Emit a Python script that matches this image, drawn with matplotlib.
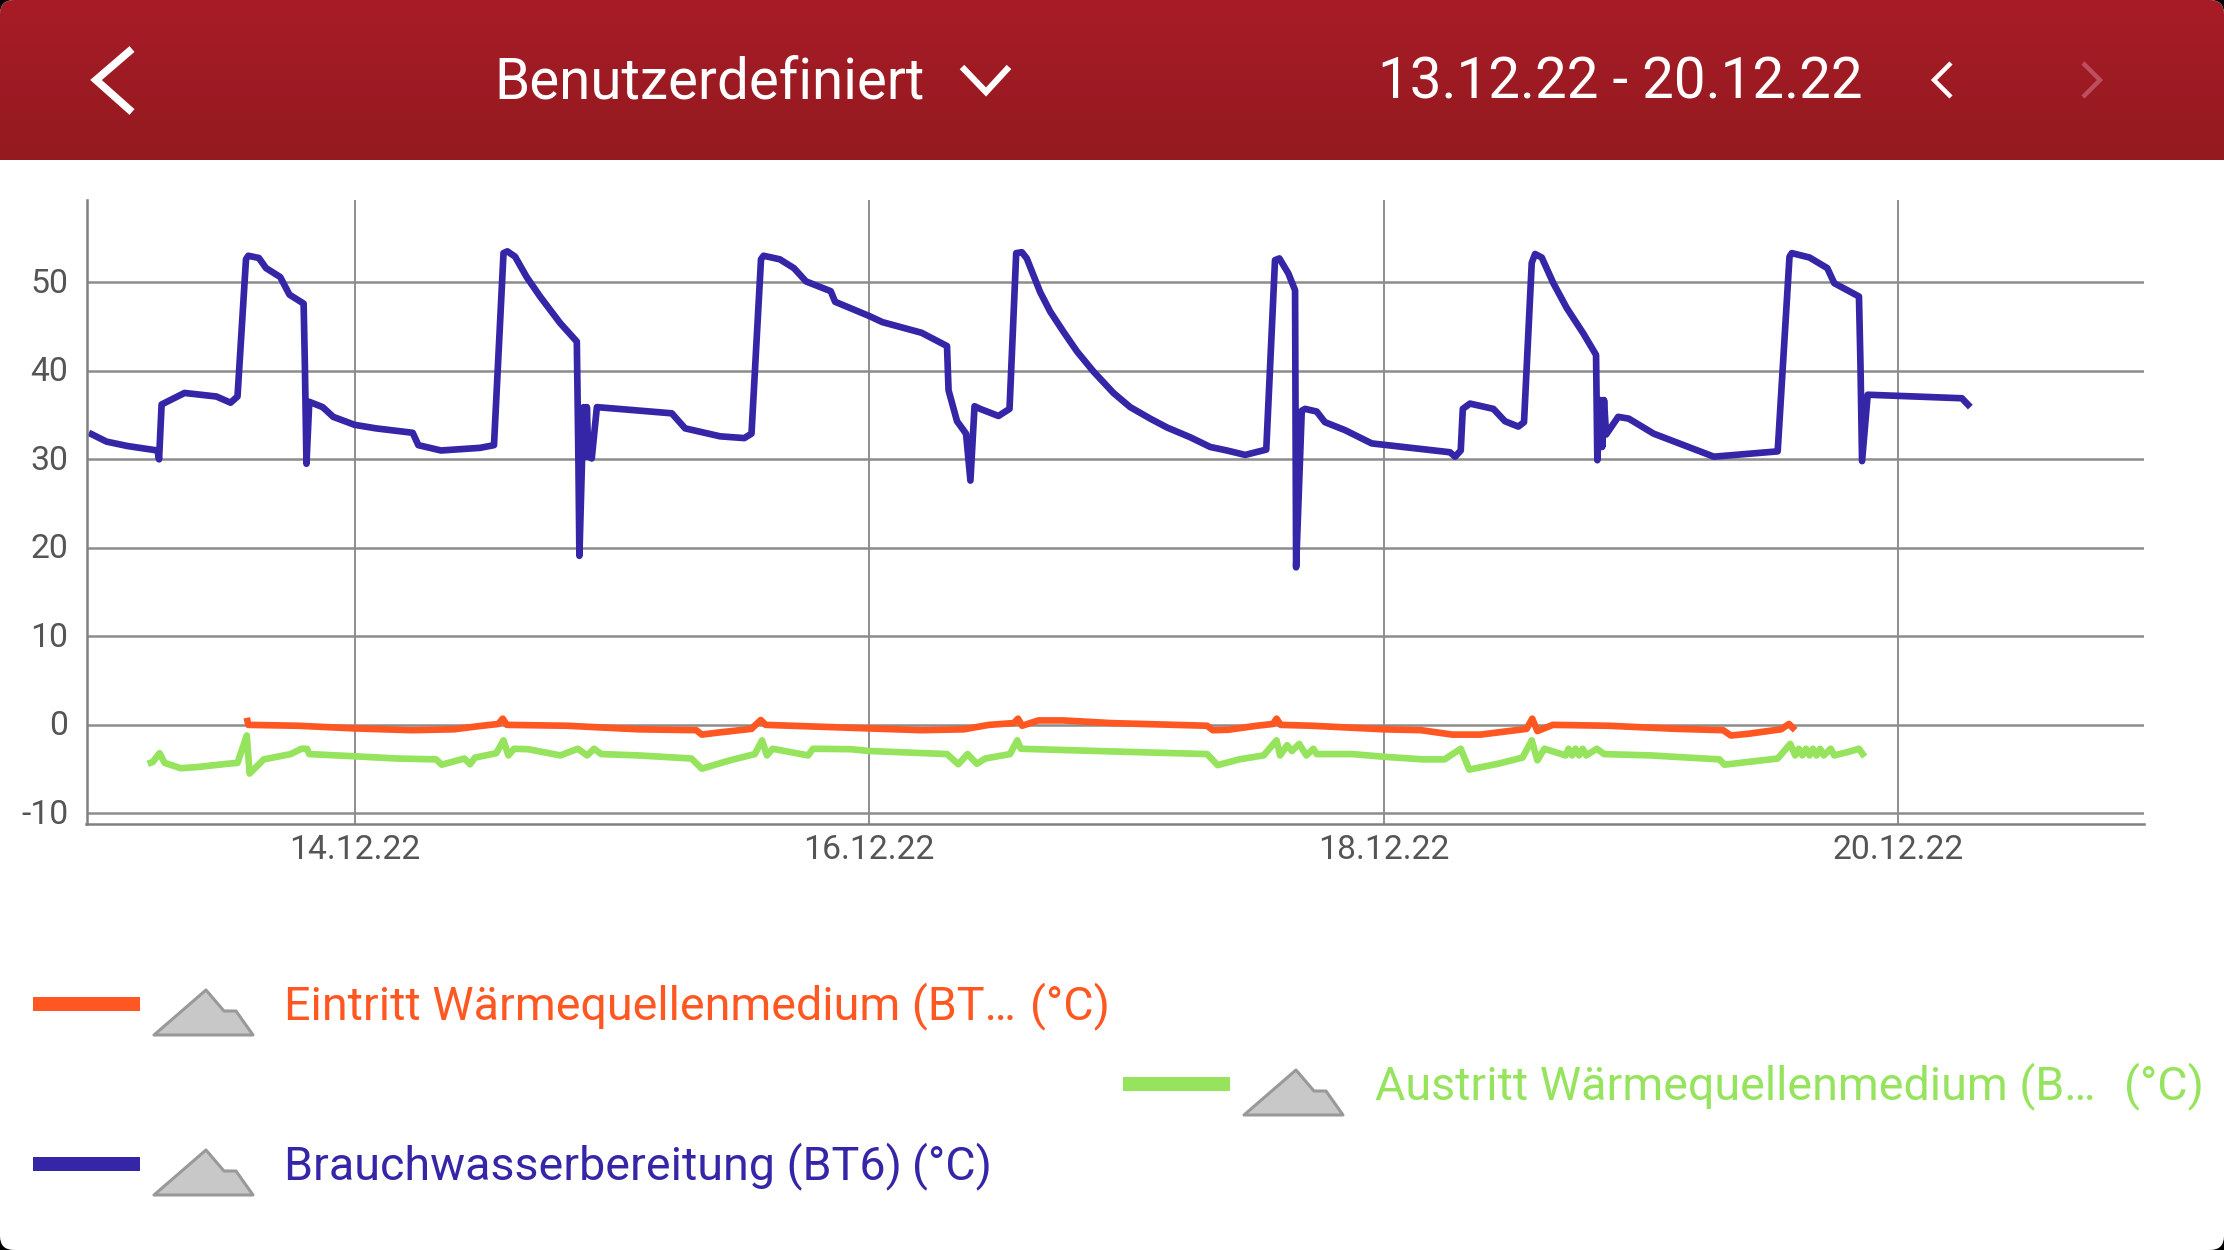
import numpy as np
import matplotlib
matplotlib.use("Agg")
import matplotlib.pyplot as plt
from matplotlib.patches import Polygon, Rectangle, FancyBboxPatch
from matplotlib.transforms import ScaledTranslation

W, H = 2224, 1250
plt.rcParams['font.family'] = ['Roboto', 'DejaVu Sans']

# ---- data (x = day of December 2022, y = degrees C) ----
blue_day = [12.967,13.036,13.118,13.234,13.24,13.25,13.284,13.339,13.463,13.518,13.545,13.578,13.587,13.628,13.656,13.711,13.747,13.802,13.807,13.813,13.824,13.876,13.917,14.0,14.083,14.226,14.248,14.336,14.488,14.542,14.579,14.594,14.624,14.669,14.721,14.799,14.864,14.870,14.874,14.89,14.9,14.903,14.909,14.922,14.942,15.233,15.285,15.421,15.515,15.543,15.580,15.590,15.653,15.708,15.755,15.851,15.868,16.0,16.052,16.204,16.303,16.309,16.342,16.377,16.394,16.410,16.432,16.503,16.546,16.572,16.594,16.613,16.665,16.704,16.756,16.808,16.873,16.95,17.015,17.093,17.158,17.248,17.326,17.391,17.462,17.544,17.578,17.595,17.63,17.656,17.658,17.66,17.669,17.682,17.695,17.74,17.772,17.85,17.954,18.258,18.278,18.3,18.308,18.336,18.427,18.472,18.524,18.546,18.576,18.589,18.615,18.66,18.712,18.777,18.826,18.831,18.843,18.850,18.857,18.865,18.912,18.953,19.05,19.284,19.532,19.578,19.587,19.656,19.725,19.752,19.848,19.854,19.860,19.882,20.248,20.281]
blue_val = [33.0,32.0,31.5,31.0,30.0,36.2,36.7,37.5,37.1,36.4,37.1,52.6,53.0,52.75,51.6,50.6,48.6,47.6,40.5,29.5,36.5,35.9,34.8,33.9,33.5,33.0,31.6,31.0,31.3,31.6,53.3,53.5,52.9,50.6,48.4,45.4,43.3,30.3,19.1,35.9,30.3,35.9,30.3,30.1,35.9,35.2,33.5,32.6,32.4,32.9,52.6,53.0,52.6,51.6,50.1,49.0,47.8,46.2,45.5,44.3,42.8,37.8,34.3,32.9,27.6,36.0,35.7,34.9,35.7,53.3,53.4,52.7,48.9,46.7,44.4,42.2,39.9,37.5,35.9,34.6,33.6,32.5,31.4,31.0,30.5,31.1,52.5,52.7,51.0,49.1,33.3,17.8,25.0,35.5,35.7,35.4,34.2,33.3,31.8,30.8,30.3,31.0,35.7,36.3,35.7,34.3,33.7,34.2,52.2,53.2,52.8,49.9,47.1,44.2,41.8,29.9,36.7,31.4,36.7,32.8,34.8,34.6,32.9,30.3,30.9,52.9,53.3,52.8,51.6,49.9,48.4,40.5,29.8,37.3,36.9,35.9]

orange_day = [13.581,13.587,13.78,14.0,14.22,14.386,14.496,14.559,14.576,14.592,14.826,15.102,15.328,15.35,15.405,15.543,15.579,15.598,16.0,16.204,16.369,16.466,16.562,16.579,16.595,16.658,16.755,16.942,17.314,17.336,17.397,17.507,17.570,17.584,17.6,17.722,18.0,18.146,18.267,18.377,18.556,18.578,18.598,18.658,18.873,19.14,19.32,19.35,19.42,19.545,19.576,19.6]
orange_val = [0.8,0.0,-0.1,-0.4,-0.6,-0.5,-0.1,0.1,0.7,0.0,-0.1,-0.5,-0.6,-1.1,-0.9,-0.45,0.55,0.0,-0.4,-0.6,-0.5,0.0,0.2,0.7,-0.1,0.5,0.5,0.2,-0.1,-0.6,-0.55,-0.1,0.1,0.7,0.0,-0.1,-0.5,-0.6,-1.1,-1.1,-0.45,0.7,-0.7,0.0,-0.1,-0.45,-0.6,-1.2,-1.0,-0.5,0.1,-0.6]

green_day = [13.196,13.215,13.242,13.262,13.325,13.394,13.504,13.545,13.581,13.592,13.647,13.752,13.793,13.815,13.824,14.0,14.165,14.317,14.339,14.427,14.449,14.468,14.551,14.579,14.598,14.62,14.675,14.8,14.868,14.904,14.931,14.959,15.102,15.309,15.35,15.46,15.556,15.584,15.603,15.625,15.763,15.782,15.928,16.0,16.303,16.347,16.383,16.419,16.452,16.548,16.576,16.59,16.942,17.314,17.355,17.438,17.534,17.584,17.598,17.625,17.644,17.672,17.70,17.727,17.74,17.877,18.0,18.154,18.237,18.3,18.333,18.444,18.54,18.576,18.598,18.625,18.708,18.719,18.733,18.746,18.76,18.774,18.788,18.829,18.857,19.036,19.306,19.325,19.532,19.581,19.6,19.614,19.628,19.642,19.656,19.669,19.683,19.697,19.711,19.738,19.752,19.807,19.848,19.87]
green_val = [-4.4,-4.2,-3.2,-4.3,-4.9,-4.75,-4.4,-4.3,-1.2,-5.5,-3.9,-3.3,-2.7,-2.7,-3.3,-3.55,-3.8,-3.9,-4.5,-3.8,-4.45,-3.7,-3.2,-1.75,-3.45,-2.7,-2.75,-3.45,-2.7,-3.45,-2.7,-3.3,-3.45,-3.8,-4.95,-4.0,-3.3,-1.75,-3.45,-2.7,-3.45,-2.7,-2.75,-2.95,-3.3,-4.45,-3.3,-4.4,-3.8,-3.3,-1.75,-2.7,-3.0,-3.3,-4.55,-3.9,-3.45,-1.75,-3.45,-2.3,-2.95,-2.15,-3.45,-2.7,-3.3,-3.3,-3.6,-3.9,-3.9,-2.7,-5.05,-4.4,-3.7,-1.75,-4.0,-2.7,-3.45,-2.7,-3.45,-2.7,-3.45,-2.7,-3.45,-2.7,-3.3,-3.45,-3.9,-4.5,-3.8,-2.15,-3.45,-2.7,-3.45,-2.7,-3.45,-2.7,-3.45,-2.7,-3.45,-2.7,-3.45,-3.05,-2.7,-3.6]

x_ticks = [14, 16, 18, 20]
x_labels = ['14.12.22', '16.12.22', '18.12.22', '20.12.22']
y_ticks = [-10, 0, 10, 20, 30, 40, 50]

ORANGE, GREEN, BLUE = '#FF5722', '#96E35E', '#3526A8'

fig = plt.figure(figsize=(W / 100, H / 100), dpi=100, facecolor='black')

# screen overlay in pixel coordinates
ui = fig.add_axes([0, 0, 1, 1], zorder=0)
ui.set_xlim(0, W); ui.set_ylim(H, 0); ui.axis('off')
screen = FancyBboxPatch((0, 0), W, H, boxstyle='round,pad=0,rounding_size=14',
                        fc='white', ec='none')
ui.add_patch(screen)
grad = np.linspace(0, 1, 160)[:, None, None] * (np.array([0x94, 0x1A, 0x20]) - np.array([0xA8, 0x1C, 0x27])) + np.array([0xA8, 0x1C, 0x27])
im = ui.imshow(grad.astype(np.uint8), extent=(0, W, 160, 0), aspect='auto', zorder=1)
im.set_clip_path(screen)
ui.set_xlim(0, W); ui.set_ylim(H, 0)

def chevron(pts, color='white', lw=5):
    xs, ys = zip(*pts)
    ui.plot(xs, ys, color=color, lw=lw, solid_joinstyle='miter', solid_capstyle='butt', zorder=3)

chevron([(132, 49), (96, 80), (132, 112)], lw=5.5)
chevron([(962, 67), (986, 92), (1009, 67)], lw=4.5)
chevron([(1951, 63), (1934, 80), (1951, 97)], lw=3.2)
chevron([(2083, 63), (2100, 80), (2083, 97)], color='#BE4F5C', lw=3.2)
ui.text(494, 98.5, 'Benutzerdefiniert', color='white', fontsize=40.7, va='baseline', ha='left', zorder=3)
ui.text(1378, 98.5, '13.12.22 - 20.12.22', color='white', fontsize=40.7, va='baseline', ha='left', zorder=3)

def icon(x0, y0):
    pts = [(x0 + 52, y0), (x0 + 70, y0 + 21), (x0 + 82, y0 + 21), (x0 + 99, y0 + 45), (x0, y0 + 45)]
    ui.add_patch(Polygon(pts, closed=True, fc='#C8C8C8', ec='#999999', lw=2.2, joinstyle='round', zorder=3))

legend = [
    (33, 140, 997, 154, 990, 284, 1019, 'Eintritt Wärmequellenmedium (BT…', 1030, ORANGE),
    (1123, 1230, 1077, 1244, 1070, 1375, 1099, 'Austritt Wärmequellenmedium (B…', 2124, GREEN),
    (33, 140, 1157, 154, 1150, 284, 1179, 'Brauchwasserbereitung (BT6)', 912, BLUE),
]
for sx0, sx1, sy, ix, iy, tx, ty, label, ux, col in legend:
    ui.add_patch(Rectangle((sx0, sy), sx1 - sx0, 14, fc=col, ec='none', zorder=3))
    icon(ix, iy)
    ui.text(tx, ty, label, color=col, fontsize=33.6, va='baseline', ha='left', zorder=3)
    ui.text(ux, ty, '(°C)', color=col, fontsize=33.6, va='baseline', ha='left', zorder=3)

# chart
L, R, T, B = 86.5, 2144, 200, 824
ax = fig.add_axes([L / W, 1 - B / H, (R - L) / W, (B - T) / H], zorder=2)
ax.patch.set_alpha(0)
ax.set_xlim(12.958, 20.956)
ax.set_ylim(-11.2, 59.3)
for s in ('top', 'right'):
    ax.spines[s].set_visible(False)
for s in ('left', 'bottom'):
    ax.spines[s].set_color('#808080')
    ax.spines[s].set_linewidth(1.8)
ax.set_xticks(x_ticks, x_labels)
ax.set_yticks(y_ticks, [str(v) for v in y_ticks])
ax.tick_params(length=0, labelsize=24.3, labelcolor='#555555')
ax.tick_params(axis='x', pad=7)
ax.tick_params(axis='y', pad=13)
for lbl in ax.get_yticklabels():
    lbl.set_transform(lbl.get_transform() + ScaledTranslation(0, 2 / 100, fig.dpi_scale_trans))
ax.grid(True, axis='y', color='#8C8C8C', lw=1.8)
ax.grid(True, axis='x', color='#707070', lw=1.1)
ax.set_axisbelow(True)

for d, v, c in [(orange_day, orange_val, ORANGE), (green_day, green_val, GREEN), (blue_day, blue_val, BLUE)]:
    ax.plot(d, v, color=c, lw=4.8, solid_joinstyle='round', solid_capstyle='butt')

fig.savefig('out.png', dpi=100, facecolor='black')
